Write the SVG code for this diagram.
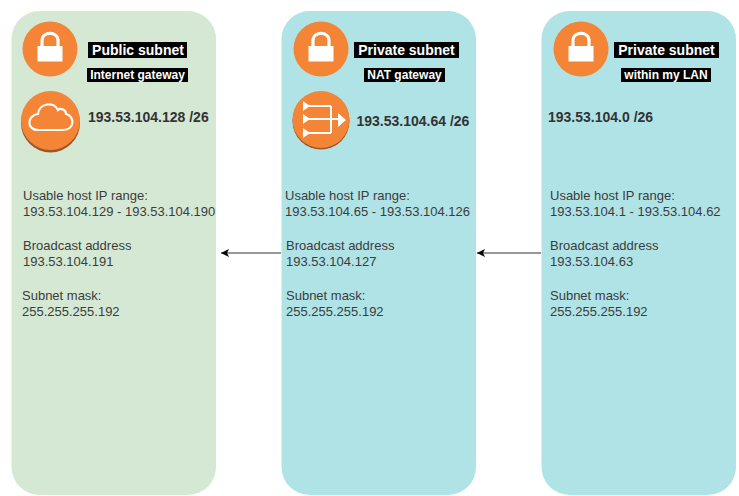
<svg xmlns="http://www.w3.org/2000/svg" width="739" height="496" viewBox="0 0 739 496">
<style>
text{font-family:"Liberation Sans",Arial,sans-serif;fill:#333}
.t{font-size:13px;fill:#3c3c3c}
.ip{font-size:14px;font-weight:bold}
.h{font-size:14px;font-weight:bold;fill:#fff;text-anchor:middle}
.s{font-size:12px;font-weight:bold;fill:#fff;text-anchor:middle}
.o{fill:#f58536}
.w{fill:#fff}
.ws{fill:none;stroke:#fff;stroke-width:2}
.c{stroke:#333;stroke-width:1;fill:none;marker-end:url(#a)}
</style>
<defs>
<marker id="a" markerUnits="userSpaceOnUse" markerWidth="10" markerHeight="10" refX="8" refY="5" orient="auto"><path d="M0 1L8 5L0 9L2 5Z" fill="#000"/></marker>
<g id="lock"><circle cx="0" cy="0" r="27.500" class="o"/><path d="M-12.500 -3H12.500V12.500H-12.500Z" class="w"/><path d="M-8 -3V-8.500C-8 -18 8 -18 8 -8.500V-3" fill="none" stroke="#fff" stroke-width="3.200"/></g>
</defs>
<g id="connectors">
<path class="c" d="M281 253H221"/>
<path class="c" d="M541 253H477"/>
</g>
<g id="public-subnet">
<rect x="11.500" y="11" width="204.500" height="484" rx="28" fill="#d5e8d4"/>
<use href="#lock" x="50" y="49"/>
<rect x="88" y="42" width="99" height="16"/><text class="h" x="138" y="55">Public subnet</text>
<rect x="87" y="68" width="101" height="14"/><text class="s" x="137.500" y="79">Internet gateway</text>
<circle cx="50.500" cy="123" r="29.500" fill="#9d5625"/><circle cx="50.500" cy="120.500" r="29.500" class="o"/>
<path d="M38 130H63C75 130 75 116 66 114C66 109 60 108 58 110C54 101 39 103 38 114C27 115 26 130 38 130Z" fill="none" stroke="#fff" stroke-width="2.200"/>
<text class="ip" x="88" y="122">193.53.104.128 /26</text>
<text class="t" x="23" y="200">Usable host IP range:</text>
<text class="t" x="23" y="216">193.53.104.129 - 193.53.104.190</text>
<text class="t" x="23" y="250">Broadcast address</text>
<text class="t" x="23" y="266">193.53.104.191</text>
<text class="t" x="22" y="300">Subnet mask:</text>
<text class="t" x="22" y="316">255.255.255.192</text>
</g>
<g id="nat-subnet">
<rect x="281.500" y="11" width="194.500" height="484" rx="28" fill="#b0e3e6"/>
<use href="#lock" x="321" y="49"/>
<rect x="354" y="42" width="105" height="16"/><text class="h" x="406.500" y="55">Private subnet</text>
<rect x="364" y="68" width="81" height="14"/><text class="s" x="404.500" y="79">NAT gateway</text>
<circle cx="321" cy="121" r="28.500" fill="#9d5625"/><circle cx="321" cy="119.500" r="28.500" class="o"/>
<path class="ws" d="M309 106H331M309 119H340M309 133H331M331 106V133"/>
<path class="w" d="M303 101L310 106L303 111ZM303 114L310 119L303 124ZM303 128L310 133L303 138ZM338 113L346 120L338 127Z"/>
<text class="ip" x="356.500" y="126">193.53.104.64 /26</text>
<text class="t" x="285" y="200">Usable host IP range:</text>
<text class="t" x="285" y="216">193.53.104.65 - 193.53.104.126</text>
<text class="t" x="286" y="250">Broadcast address</text>
<text class="t" x="286" y="266">193.53.104.127</text>
<text class="t" x="286" y="300">Subnet mask:</text>
<text class="t" x="286" y="316">255.255.255.192</text>
</g>
<g id="lan-subnet">
<rect x="541.500" y="11" width="194.500" height="484" rx="28" fill="#b0e3e6"/>
<use href="#lock" x="581" y="49"/>
<rect x="614" y="42" width="105" height="16"/><text class="h" x="666.500" y="55">Private subnet</text>
<rect x="621" y="68" width="90" height="14"/><text class="s" x="666" y="79">within my LAN</text>
<text class="ip" x="548" y="122">193.53.104.0 /26</text>
<text class="t" x="550" y="200">Usable host IP range:</text>
<text class="t" x="550" y="216">193.53.104.1 - 193.53.104.62</text>
<text class="t" x="550" y="250">Broadcast address</text>
<text class="t" x="550" y="266">193.53.104.63</text>
<text class="t" x="550" y="300">Subnet mask:</text>
<text class="t" x="550" y="316">255.255.255.192</text>
</g>
</svg>
